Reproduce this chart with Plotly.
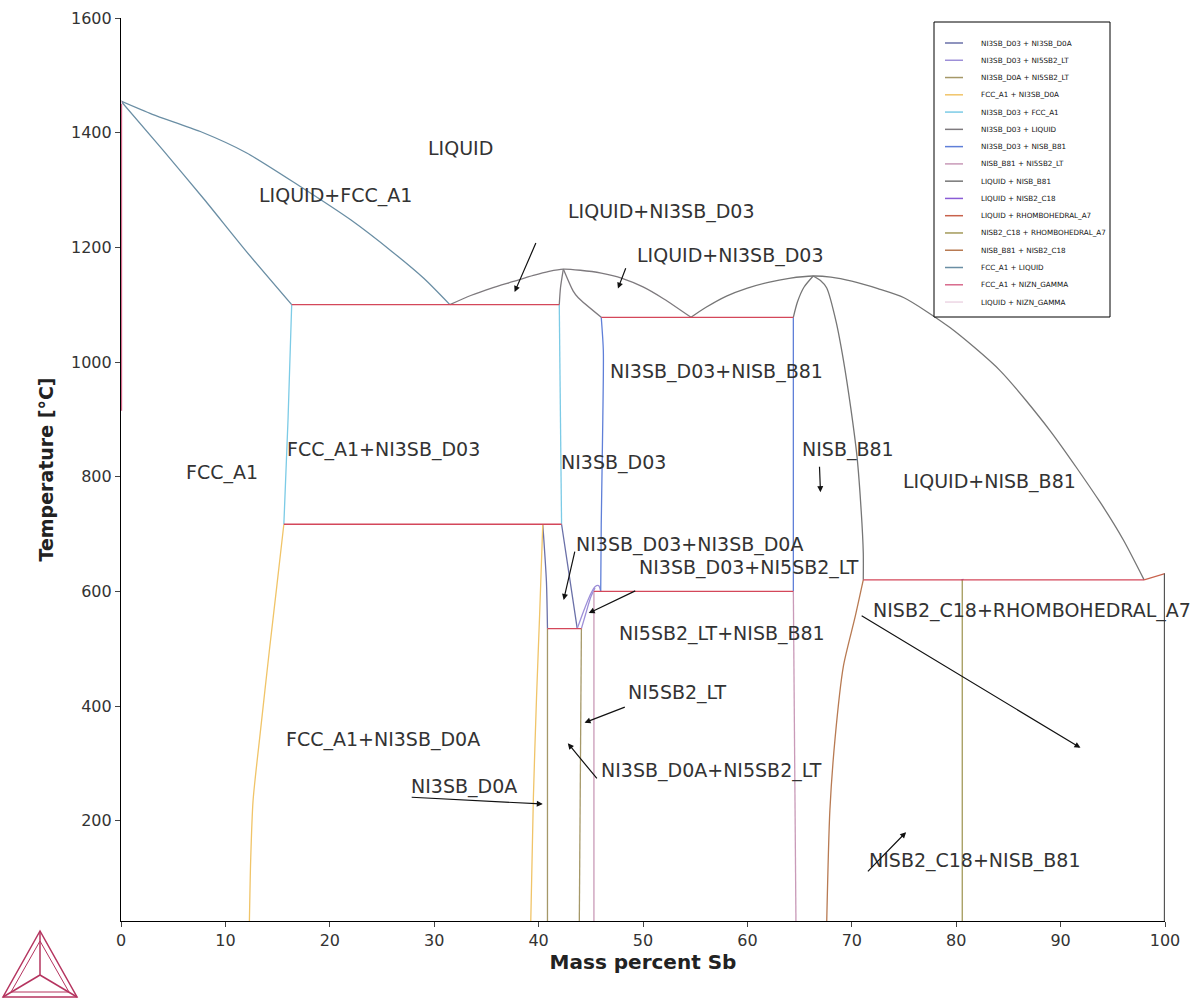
import plotly.graph_objects as go

# ---------------- data (mass % Sb, temperature degC) ----------------
liq_fcc_x = [0, 3, 7.6, 12, 17.1, 22, 26, 29, 31.5, None, 0, 4, 8, 12, 16.35]
liq_fcc_t = [1455, 1432, 1402, 1365, 1307, 1248, 1192, 1146, 1100, None, 1455, 1370, 1283, 1193, 1100]

d03_fcc_x = [16.35, 16.0, 15.6, None, 41.98, 42.1, 42.2]
d03_fcc_t = [1100, 900, 717, None, 1100, 900, 717]

fcc_d0a_x = [15.6, 14.93, 14.2, 13.38, 12.65, 12.42, 12.3, None, 40.4, 40.1, 39.8, 39.5, 39.25]
fcc_d0a_t = [717, 610, 495, 360, 235, 130, 25, None, 717, 560, 414, 240, 25]

d03_d0a_x = [40.4, 40.75, 40.85, None, 42.2, 43.0, 43.7]
d03_d0a_t = [717, 617, 535, None, 717, 620, 535]

d0a_ni5_x = [40.85, 40.85, None, 44.1, 44.05, 43.9]
d0a_ni5_t = [535, 25, None, 535, 400, 25]

d03_ni5_x = [43.7, 44.3, 44.9, 45.4, 45.75, 45.95, None, 44.1, 44.5, 45.0, 45.4]
d03_ni5_t = [535, 565, 592, 608, 610, 600, None, 535, 560, 590, 606]

d03_liq_x = [31.5, 33.5, 35.5, 37.5, 39.5, 41.0, 42.37, 44, 46, 48, 50, 52, 54.6,
             None, 42.37, 42.1, 41.98, None, 42.37, 43.3, 43.8, 46.0]
d03_liq_t = [1100, 1116, 1129, 1140, 1151, 1158, 1162, 1160, 1155, 1146, 1131, 1110, 1078,
             None, 1162, 1130, 1100, None, 1162, 1124, 1112, 1078]

d03_nisb_x = [46.0, 46.2, 46.15, 46.0, 45.95, None, 64.4, 64.4]
d03_nisb_t = [1078, 1020, 900, 717, 600, None, 1078, 600]

nisb_ni5_x = [45.3, 45.3, None, 64.4, 64.65]
nisb_ni5_t = [600, 25, None, 600, 25]

liq_nisb_x = [54.6, 56, 58, 60, 62, 64, 66.3, 68, 70, 72.5, 75, 79.4, 84.2, 89, 93.8, 96, 98,
              None, 66.3, 65.4, 64.8, 64.4,
              None, 66.3, 67.0, 67.6, 68.5, 69.2, 69.9, 70.5, 70.9, 71.1, 71.1]
liq_nisb_t = [1078, 1095, 1115, 1129, 1139, 1146, 1150, 1148, 1141, 1128, 1112, 1060, 985, 880, 755, 690, 620,
              None, 1150, 1130, 1105, 1078,
              None, 1150, 1142, 1129, 1070, 1003, 920, 835, 740, 667, 620]

liq_nisb2_x = [80.5, 80.7]
liq_nisb2_t = [620, 621]

liq_rhomb_x = [98.0, 100.0]
liq_rhomb_t = [620, 631]

nisb2_rhomb_x = [80.58, 80.58]
nisb2_rhomb_t = [620, 25]

sb_side_x = [99.95, 99.95]
sb_side_t = [631, 25]

nisb_nisb2_x = [71.1, 70.3, 69.2, 68.4, 67.9, 67.6]
nisb_nisb2_t = [620, 554, 470, 344, 218, 25]

fcc_nizn_x = [0.05, 0.05]
fcc_nizn_t = [1455, 915]

liq_nizn_x = [0.0, 0.05]
liq_nizn_t = [1455, 1450]

# invariant (three-phase) lines
inv_x = [16.35, 41.98, None, 46.0, 64.4, None, 15.6, 42.2, None, 45.3, 64.4, None, 40.85, 44.1, None, 71.1, 98.0]
inv_t = [1100, 1100, None, 1078, 1078, None, 717, 717, None, 600, 600, None, 535, 535, None, 620, 620]

# (legend name, x, T, colour, smoothed)
series = [
    ("NI3SB_D03 + NI3SB_D0A", d03_d0a_x, d03_d0a_t, "#6a70a8", True),
    ("NI3SB_D03 + NI5SB2_LT", d03_ni5_x, d03_ni5_t, "#9d8fd8", True),
    ("NI3SB_D0A + NI5SB2_LT", d0a_ni5_x, d0a_ni5_t, "#a59868", False),
    ("FCC_A1 + NI3SB_D0A", fcc_d0a_x, fcc_d0a_t, "#f0c468", True),
    ("NI3SB_D03 + FCC_A1", d03_fcc_x, d03_fcc_t, "#7ccbe6", False),
    ("NI3SB_D03 + LIQUID", d03_liq_x, d03_liq_t, "#7e7a7e", True),
    ("NI3SB_D03 + NISB_B81", d03_nisb_x, d03_nisb_t, "#5f7fd8", True),
    ("NISB_B81 + NI5SB2_LT", nisb_ni5_x, nisb_ni5_t, "#c99ab8", False),
    ("LIQUID + NISB_B81", liq_nisb_x, liq_nisb_t, "#767676", True),
    ("LIQUID + NISB2_C18", liq_nisb2_x, liq_nisb2_t, "#8a5cd6", False),
    ("LIQUID + RHOMBOHEDRAL_A7", liq_rhomb_x, liq_rhomb_t, "#c8624c", False),
    ("NISB2_C18 + RHOMBOHEDRAL_A7", nisb2_rhomb_x, nisb2_rhomb_t, "#a39a5a", False),
    ("NISB_B81 + NISB2_C18", nisb_nisb2_x, nisb_nisb2_t, "#b87a52", True),
    ("FCC_A1 + LIQUID", liq_fcc_x, liq_fcc_t, "#6a8ea4", True),
    ("FCC_A1 + NIZN_GAMMA", fcc_nizn_x, fcc_nizn_t, "#d86a8c", False),
    ("LIQUID + NIZN_GAMMA", liq_nizn_x, liq_nizn_t, "#ecd6e4", False),
]

labels = [
    ("LIQUID", 32.5, 1373),
    ("LIQUID+FCC_A1", 20.5, 1291),
    ("LIQUID+NI3SB_D03", 51.8, 1262),
    ("LIQUID+NI3SB_D03", 58.4, 1185),
    ("NI3SB_D03+NISB_B81", 57.0, 984),
    ("FCC_A1", 9.7, 808),
    ("FCC_A1+NI3SB_D03", 25.1, 848),
    ("NI3SB_D03", 47.2, 824),
    ("NISB_B81", 69.6, 848),
    ("LIQUID+NISB_B81", 83.2, 792),
    ("NI3SB_D03+NI3SB_D0A", 54.5, 681),
    ("NI3SB_D03+NI5SB2_LT", 60.2, 642),
    ("NISB2_C18+RHOMBOHEDRAL_A7", 87.3, 567),
    ("NI5SB2_LT+NISB_B81", 57.6, 527),
    ("NI5SB2_LT", 53.3, 423),
    ("FCC_A1+NI3SB_D0A", 25.1, 341),
    ("NI3SB_D0A+NI5SB2_LT", 56.6, 288),
    ("NI3SB_D0A", 32.9, 260),
    ("NISB2_C18+NISB_B81", 81.8, 131),
]

# arrows: (tail x, tail T, head x, head T)
arrows = [
    (39.8, 1210, 37.7, 1122),
    (48.4, 1166, 47.6, 1128),
    (66.9, 820, 67.0, 773),
    (43.5, 672, 42.4, 585),
    (49.4, 602, 44.8, 562),
    (70.8, 559, 91.9, 327),
    (48.4, 399, 44.4, 371),
    (45.7, 271, 42.8, 335),
    (27.7, 241, 40.4, 229),
    (71.4, 109, 75.2, 180),
]

fig = go.Figure()
for name, xs, ts, col, smooth in series:
    line = dict(color=col, width=1.3)
    if smooth:
        line.update(shape="spline", smoothing=0.7)
    fig.add_trace(go.Scatter(x=xs, y=ts, mode="lines", name=name, showlegend=False,
                             line=line, connectgaps=False, hoverinfo="skip"))
fig.add_trace(go.Scatter(x=inv_x, y=inv_t, mode="lines", showlegend=False, hoverinfo="skip",
                         line=dict(color="#d4475a", width=1.3), connectgaps=False))
fig.add_trace(go.Scatter(x=sb_side_x, y=sb_side_t, mode="lines", showlegend=False, hoverinfo="skip",
                         line=dict(color="#555555", width=1.3)))

annos = []
for txt, x, t in labels:
    annos.append(dict(x=x, y=t, xref="x", yref="y", text=txt, showarrow=False,
                      font=dict(family="DejaVu Sans", size=19, color="#333333")))
for tx, tt, hx, ht in arrows:
    annos.append(dict(x=hx, y=ht, ax=tx, ay=tt, xref="x", yref="y", axref="x", ayref="y",
                      text="", showarrow=True, arrowhead=2, arrowsize=1, arrowwidth=1.2,
                      arrowcolor="#111111"))


# pixel -> paper coordinate helper (plot area: x 121..1165, y 18..921)
def P(px, py):
    return (px - 121) / 1044.0, (921 - py) / 903.0


shapes = []

# legend box drawn from the series list
bx0, by0 = P(934, 22)
bx1, by1 = P(1110, 317)
shapes.append(dict(type="rect", xref="paper", yref="paper", x0=bx0, y0=by1, x1=bx1, y1=by0,
                   line=dict(color="black", width=1), fillcolor="white", layer="above"))
for i, (name, xs, ts, col, smooth) in enumerate(series):
    yy = 43 + i * 17.27
    lx0, ly = P(945, yy)
    lx1, _ = P(963, yy)
    shapes.append(dict(type="line", xref="paper", yref="paper", x0=lx0, y0=ly, x1=lx1, y1=ly,
                       line=dict(color=col, width=1.5), layer="above"))
    tx, _ = P(979, yy)
    annos.append(dict(x=tx, y=ly, xref="paper", yref="paper", text=name, showarrow=False,
                      xanchor="left", yanchor="middle",
                      font=dict(family="DejaVu Sans", size=7.2, color="#111111")))

# Thermo-Calc style logo
def tri_path(pts):
    s = ""
    for i, (px, py) in enumerate(pts):
        X, Y = P(px, py)
        s += ("M" if i == 0 else "L") + f"{X:.5f},{Y:.5f}"
    return s + "Z"

logo_col = "#b5345f"
shapes.append(dict(type="path", xref="paper", yref="paper",
                   path=tri_path([(40, 931), (3, 997), (77, 997)]),
                   line=dict(color=logo_col, width=1.5)))
shapes.append(dict(type="path", xref="paper", yref="paper",
                   path=tri_path([(40, 941), (11, 992), (69, 992)]),
                   line=dict(color=logo_col, width=1)))
cx, cy = 40, 975
for vx, vy in [(40, 931), (3, 997), (77, 997)]:
    x0, y0 = P(cx, cy)
    x1, y1 = P(vx, vy)
    shapes.append(dict(type="line", xref="paper", yref="paper", x0=x0, y0=y0, x1=x1, y1=y1,
                       line=dict(color=logo_col, width=1.5)))

fig.update_layout(
    width=1197, height=998,
    margin=dict(l=121, r=32, t=18, b=77, autoexpand=False),
    paper_bgcolor="white", plot_bgcolor="white",
    font=dict(family="DejaVu Sans", color="#333333"),
    annotations=annos,
    shapes=shapes,
    showlegend=False,
    hovermode=False,
    xaxis=dict(range=[0, 100], dtick=10, tick0=0, ticks="outside", ticklen=5, showline=True,
               linecolor="black", linewidth=1.2, showgrid=False, zeroline=False, automargin=False,
               tickfont=dict(size=16, color="#333333"),
               title=dict(text="<b>Mass percent Sb</b>", font=dict(size=20, color="#222222"), standoff=4)),
    yaxis=dict(range=[25, 1600], tickvals=[200, 400, 600, 800, 1000, 1200, 1400, 1600],
               ticks="outside", ticklen=5, showline=True, linecolor="black", linewidth=1.2,
               showgrid=False, zeroline=False, automargin=False, tickfont=dict(size=16, color="#333333"),
               title=dict(text="<b>Temperature [°C]</b>", font=dict(size=19, color="#222222"), standoff=12)),
)

fig.write_html("out.html", config={"displayModeBar": False},
               post_script="document.body.style.margin='0';")
